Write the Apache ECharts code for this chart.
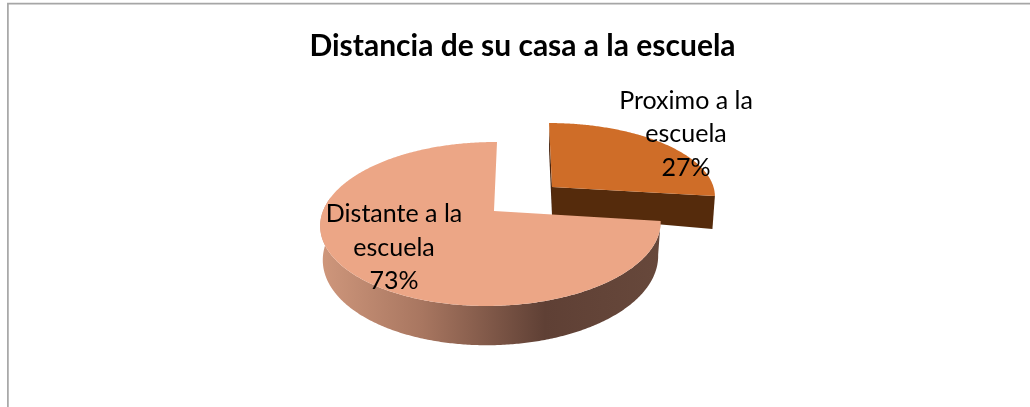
<!DOCTYPE html>
<html><head><meta charset="utf-8">
<style>html,body{margin:0;padding:0;background:#fff}#c{width:1030px;height:407px}</style>
<script src="https://cdn.jsdelivr.net/npm/echarts@6/dist/echarts.min.js"></script>
</head><body><div id="c"></div>
<script>
const chartTitle = 'Distancia de su casa a la escuela';
const categories = ['Proximo a la escuela', 'Distante a la escuela'];
const values = [27, 73];
const labelLines = [['Proximo a la', 'escuela'], ['Distante a la', 'escuela']];

// Projection of each exploded slice: apex, radii, perspective terms, wall depth.
const views = [
  {ax:552, ay:187, a:161.5, b:71, k:.11, m:0, s:-3.3, D:28, du:.18, dv:0, lx:686, ly:134},
  {ax:494, ay:211, a:168, b:79.9, k:.1585, m:.0175, s:3.5, D:33, du:0, dv:.19, lx:394, ly:247.5}
];
const topColors = ['#cf6d28', '#eca686'];
const cutColors = ['#552b0c', '#5f4030'];
const wallStops = [[0,'#cf977c'],[.3,'#a87660'],[.66,'#5f4035'],[1,'#67483b']];
const total = values.reduce((p, c) => p + c, 0);

function project(v, th) {
  const u = Math.sin(th), w = Math.cos(th);
  const d = 1 + v.k * w + v.m * u;
  return [v.ax + (v.a * u + v.s * w) / d, v.ay - v.b * w / d];
}
function lower(v, p, th) {
  const u = Math.sin(th), w = Math.cos(th);
  return [v.ax + (p[0] - v.ax) * .985, p[1] + v.D * (1 + v.du * u - v.dv * w)];
}
function arc(v, a0, a1) {
  const pts = [], n = Math.ceil(Math.abs(a1 - a0) / .01);
  for (let i = 0; i <= n; i++) pts.push(a0 + (a1 - a0) * i / n);
  return pts;
}
function renderItem(params, api) {
  const i = params.dataIndex, v = views[i];
  const before = values.slice(0, i).reduce((p, c) => p + c, 0);
  const a0 = before / total * 2 * Math.PI, a1 = (before + api.value(0)) / total * 2 * Math.PI;
  const angs = arc(v, a0, a1);
  const topArc = angs.map(t => project(v, t));
  const apex = [v.ax, v.ay];
  const apexLow = [v.ax, v.ay + v.D];
  const children = [];
  const poly = (points, fill) => ({type:'polygon', shape:{points}, style:{fill}});
  if (i === 0) {
    const s = project(v, a0), e = project(v, a1);
    children.push(poly([s, apex, apexLow, lower(v, s, a0)], '#4a2610'));
    children.push(poly([apex, e, lower(v, e, a1), apexLow], cutColors[0]));
  } else {
    const vis = angs.filter(t => Math.cos(t) < .18 || Math.sin(t) > 0);
    const tp = vis.map(t => project(v, t));
    const bt = vis.map((t, j) => lower(v, tp[j], t)).reverse();
    children.push({type:'polygon', shape:{points: tp.concat(bt)}, style:{
      fill:new echarts.graphic.LinearGradient(0,0,1,0,wallStops.map(s=>({offset:s[0],color:s[1]})))}});
  }
  children.push(poly([apex].concat(topArc), topColors[i]));
  return {type:'group', children};
}
function renderLabel(params, api) {
  const i = params.dataIndex, v = views[i];
  const text = labelLines[i].concat([Math.round(api.value(0) / total * 100) + '%']).join('\n');
  return {type:'text', z2:10, style:{x:v.lx, y:v.ly, text, align:'center', verticalAlign:'middle',
    fontFamily:'Lato', fontSize:25, lineHeight:33.5, fill:'#000'}};
}
const chart = echarts.init(document.getElementById('c'), null, {renderer:'canvas'});
chart.setOption({
  animation:false,
  backgroundColor:'#fff',
  title:{text:chartTitle, left:522, top:26, textAlign:'center',
    textStyle:{fontFamily:'Lato', fontWeight:'bold', fontSize:30, color:'#000'}},
  graphic:[
    {type:'polyline', shape:{points:[[7.9,407],[7.9,3.7],[1030,3.7]]}, style:{stroke:'#a6a6a6', lineWidth:1.7, fill:null}}
  ],
  series:[
    {type:'custom', coordinateSystem:'none', renderItem, z:2, data:categories.map((n,i)=>({name:n,value:[values[i]]}))},
    {type:'custom', coordinateSystem:'none', renderItem:renderLabel, z:3, data:categories.map((n,i)=>({name:n,value:[values[i]]}))}
  ]
});
chart.setOption({title:{left:517.5}});
</script></body></html>
